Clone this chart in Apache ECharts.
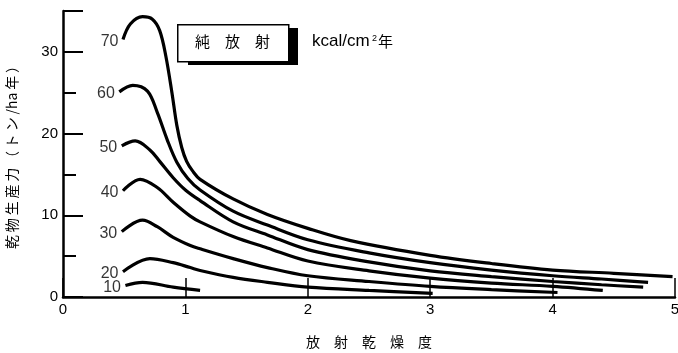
<!DOCTYPE html>
<html><head><meta charset="utf-8">
<script src="https://cdn.jsdelivr.net/npm/echarts@6/dist/echarts.min.js"></script>
<style>html,body{margin:0;padding:0;background:#fff}#c{width:678px;height:353px}</style>
</head><body><div id="c"></div>
<script>
const curveNames = ['70','60','50','40','30','20','10'];
const xTicks = [0,1,2,3,4,5];
const yTicks = [0,10,20,30];
const s70 = [[0.49,31.5],[0.55,33.4],[0.65,34.3],[0.73,34.0],[0.79,32.6],[0.84,29.5],[0.89,25.0],[0.93,21.0],[0.97,18.3],[1.01,16.6],[1.06,15.4],[1.12,14.4],[1.39,12.0],[1.67,10.1],[2.0,8.4],[2.35,6.9],[3.0,5.1],[3.5,4.1],[4.0,3.3],[4.5,2.9],[4.98,2.5]];
const s60 = [[0.46,25.1],[0.57,25.9],[0.69,25.2],[0.77,22.6],[0.85,19.3],[0.93,16.5],[1.02,14.5],[1.12,13.1],[1.39,10.5],[1.67,8.8],[2.0,7.0],[2.5,5.4],[3.0,4.2],[3.5,3.3],[4.0,2.6],[4.4,2.2],[4.78,1.8]];
const s50 = [[0.48,18.5],[0.59,19.1],[0.71,18.0],[0.79,16.6],[0.9,14.6],[1.0,13.1],[1.12,11.8],[1.39,9.2],[1.67,7.6],[2.0,5.8],[2.5,4.3],[3.0,3.2],[3.5,2.5],[4.0,1.9],[4.4,1.5],[4.74,1.2]];
const s40 = [[0.49,13.0],[0.63,14.4],[0.77,13.4],[0.9,11.6],[1.04,9.9],[1.12,9.2],[1.39,7.4],[1.67,6.0],[2.0,4.4],[2.5,3.2],[3.0,2.3],[3.5,1.7],[4.0,1.3],[4.41,0.8]];
const s30 = [[0.48,8.0],[0.65,9.4],[0.77,8.6],[0.9,7.3],[1.04,6.3],[1.12,5.9],[1.39,4.7],[1.67,3.6],[2.0,2.6],[2.5,1.9],[3.0,1.3],[3.5,0.9],[4.04,0.55]];
const s20 = [[0.49,3.1],[0.71,4.7],[0.9,4.2],[1.04,3.6],[1.12,3.25],[1.39,2.4],[1.67,1.8],[2.0,1.2],[2.5,0.8],[3.02,0.45]];
const s10 = [[0.51,1.4],[0.65,1.8],[0.9,1.2],[1.12,0.8]];
const seriesData = [s70,s60,s50,s40,s30,s20,s10];

const FONT = '"Liberation Sans", "Noto Sans CJK JP", sans-serif';
const CJK = '"Noto Sans CJK JP", sans-serif';

const chart = echarts.init(document.getElementById('c'));
const series = seriesData.map((d, i) => ({
  type: 'line',
  name: curveNames[i],
  smooth: 0.35,
  showSymbol: false,
  symbol: 'none',
  lineStyle: {color: '#000', width: 3.2},
  data: d,
  silent: true,
  animation: false
}));
series.push({
  type: 'scatter',
  name: 'labels',
  symbol: 'circle',
  symbolSize: 1,
  itemStyle: {color: 'rgba(0,0,0,0)'},
  label: {show: true, position: 'left', distance: 4, offset: [0, 2],
    formatter: p => curveNames[p.dataIndex],
    fontFamily: FONT, fontSize: 16, color: '#000'},
  data: seriesData.map(d => d[0]),
  silent: true,
  animation: false,
  z: 5
});

chart.setOption({
  animation: false,
  backgroundColor: '#fff',
  grid: {left: 63, right: 3, top: 11, bottom: 56, containLabel: false, outerBoundsMode: 'none'},
  xAxis: [{
    type: 'value', min: 0, max: 5, interval: 1,
    name: '放\u3000射\u3000乾\u3000燥\u3000度', nameLocation: 'middle', nameGap: 38,
    nameTextStyle: {fontFamily: CJK, fontSize: 14, color: '#000'},
    axisLine: {show: true, lineStyle: {color: '#000', width: 2.5}},
    axisTick: {show: true, inside: true, length: 19, lineStyle: {color: '#000', width: 1.5},
      interval: (idx, v) => v !== 0},
    axisLabel: {fontFamily: FONT, fontSize: 15, color: '#000', margin: 5,
      formatter: v => xTicks.includes(v) ? String(v) : ''},
    splitLine: {show: false}
  }],
  yAxis: [{
    type: 'value', min: 0, max: 35, interval: 10,
    name: '乾\u2009物\u2009生\u2009産\u2009力\u2009（\u2009ト\u2009ン\u2009/ha\u2009年\u2009）', nameLocation: 'middle', nameGap: 44, nameRotate: 90,
    nameTextStyle: {fontFamily: CJK, fontSize: 14, color: '#000'},
    axisLine: {show: true, lineStyle: {color: '#000', width: 2.5}},
    axisTick: {show: true, inside: true, length: 20, lineStyle: {color: '#000', width: 2}},
    axisLabel: {fontFamily: FONT, fontSize: 15, color: '#000', margin: 5,
      formatter: v => yTicks.includes(v) ? String(v) : ''},
    splitLine: {show: false}
  }, {
    type: 'value', min: 0, max: 35, interval: 5, position: 'left',
    axisLine: {show: false},
    axisTick: {show: true, inside: true, length: 13, lineStyle: {color: '#000', width: 2}},
    axisLabel: {show: false},
    splitLine: {show: false}
  }],
  graphic: [
    {type: 'rect', left: 188, top: 28, shape: {width: 110, height: 37}, style: {fill: '#000'}, z: 10},
    {type: 'rect', left: 177, top: 24, shape: {width: 111, height: 37}, style: {fill: '#fff', stroke: '#000', lineWidth: 1.5}, z: 11},
    {type: 'text', left: 195, top: 34, style: {text: '純\u3000放\u3000射', font: '15px "Noto Sans CJK JP"', fill: '#000'}, z: 12},
    {type: 'text', left: 312, top: 33, style: {text: 'kcal/cm', font: '17px "Liberation Sans"', fill: '#000'}, z: 12},
    {type: 'text', left: 372, top: 34, style: {text: '2', font: '9px "Liberation Sans"', fill: '#000'}, z: 12},
    {type: 'text', left: 378, top: 34, style: {text: '年', font: '15px "Noto Sans CJK JP"', fill: '#000'}, z: 12}
  ],
  series: series
});
</script></body></html>
